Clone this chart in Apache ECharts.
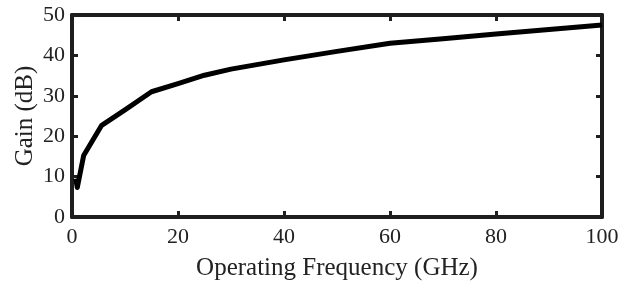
<!DOCTYPE html>
<html>
<head>
<meta charset="utf-8">
<script src="https://cdn.jsdelivr.net/npm/echarts@6/dist/echarts.min.js"></script>
<style>
  html, body { margin: 0; padding: 0; background: #fff; }
  #chart { width: 634px; height: 284px; }
</style>
</head>
<body>
<div id="chart"></div>
<script>
// frequency (GHz) and gain (dB)
var freq = [0.7, 1.0, 2.2, 5.6, 10, 15, 20, 25, 30, 40, 50, 60, 70, 80, 90, 100];
var gain = [9.5, 7.3, 15.2, 22.7, 26.5, 31, 33, 35.1, 36.6, 38.9, 41, 43, 44.1, 45.3, 46.4, 47.5];
var xTicks = [0, 20, 40, 60, 80, 100];
var yTicks = [0, 10, 20, 30, 40, 50];

var font = '"Liberation Serif", "Times New Roman", serif';
var frame = { show: true, onZero: false, lineStyle: { color: '#1e1e1e', width: 4 } };
var ticksIn = { show: true, inside: true, length: 6, lineStyle: { color: '#1e1e1e', width: 3 } };

var chart = echarts.init(document.getElementById('chart'));
chart.setOption({
  animation: false,
  grid: { left: 72, right: 32, top: 15, bottom: 67, containLabel: false, outerBoundsMode: 'none' },
  xAxis: [{
    type: 'value', min: xTicks[0], max: xTicks[xTicks.length - 1], interval: 20,
    name: 'Operating Frequency (GHz)', nameLocation: 'middle', nameGap: 39,
    nameTextStyle: { fontFamily: font, fontSize: 25, color: '#222' },
    axisLine: frame, axisTick: ticksIn, splitLine: { show: false },
    axisLabel: { fontFamily: font, fontSize: 22, color: '#222', margin: 9 }
  }, {
    type: 'value', position: 'top', min: 0, max: 100, interval: 20,
    axisLine: frame, axisTick: ticksIn, splitLine: { show: false },
    axisLabel: { show: false }
  }],
  yAxis: [{
    type: 'value', min: yTicks[0], max: yTicks[yTicks.length - 1], interval: 10,
    name: 'Gain (dB)', nameLocation: 'middle', nameGap: 34, nameMoveOverlap: false,
    nameTextStyle: { fontFamily: font, fontSize: 25, color: '#222' },
    axisLine: frame, axisTick: ticksIn, splitLine: { show: false },
    axisLabel: { fontFamily: font, fontSize: 22, color: '#222', margin: 7 }
  }, {
    type: 'value', position: 'right', min: 0, max: 50, interval: 10,
    axisLine: frame, axisTick: ticksIn, splitLine: { show: false },
    axisLabel: { show: false }
  }],
  series: [{
    type: 'line',
    data: freq.map(function (f, i) { return [f, gain[i]]; }),
    showSymbol: false,
    lineStyle: { color: '#000', width: 5, cap: 'butt', join: 'round' },
    z: 1
  }]
});
</script>
</body>
</html>
